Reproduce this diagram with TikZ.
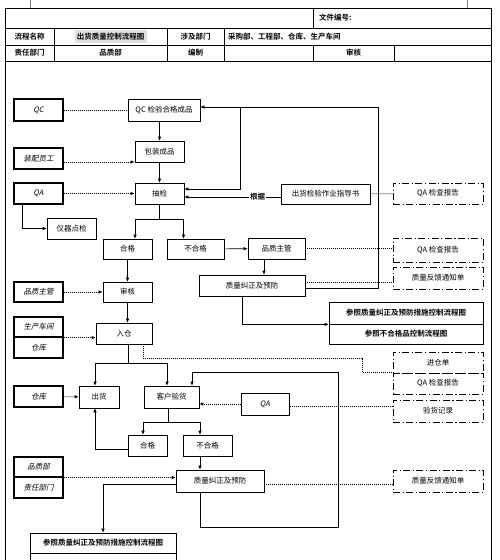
\documentclass[tikz,border=0pt]{standalone}
\usepackage{fontspec}
\setmainfont{Noto Sans CJK SC}[BoldFont={Noto Sans CJK SC Bold}]
\newfontfamily\slfont{Noto Sans CJK SC}[FakeSlant=0.2]
\usetikzlibrary{arrows.meta}

\begin{document}
\begin{tikzpicture}[
                x = 1pt, y = -1pt,
                every node/.style = {font = \fontsize{7.5}{9}\selectfont, inner sep = 0pt},
                proc/.style = {draw, line width = 0.6pt, minimum width = 49, minimum height = 21},
                role/.style = {draw, line width = 1.2pt, minimum width = 49, minimum height = 21, font = \fontsize{7.5}{9}\selectfont\slfont},
                docbox/.style = {draw, line width = 1pt, dash pattern = on 7pt off 2.5pt on 1.2pt off 2.5pt, minimum width = 90, minimum height = 22},
                refbox/.style = {draw, line width = 0.6pt, minimum height = 21, font = \fontsize{7.5}{9}\selectfont\bfseries},
                cell/.style = {font = \fontsize{7.5}{9}\selectfont\bfseries},
                arr/.style = {draw, line width = 0.6pt, -{Latex[length = 4pt, width = 3.5pt]}},
                line/.style = {draw, line width = 0.6pt},
                dotline/.style = {draw, line width = 0.8pt, dash pattern = on 1pt off 1pt},
                dotarr/.style = {dotline, -{Latex[length = 4pt, width = 3.5pt]}},
            ]
            \clip (0,0) rectangle (500,560);

            % header
            \draw[gray, line width = 0.4pt] (30,0) -- (30,8) (467,0) -- (467,8);
            \draw[line width = 0.6pt] (5,560) -- (5,8) -- (491,8) -- (491,560);
            \draw[line width = 0.6pt] (5,28) -- (491,28) (5,45) -- (491,45) (5,61) -- (491,61);
            \draw[line width = 0.6pt] (313,8) -- (313,28);
            \draw[line width = 0.6pt] (54,28) -- (54,61) (167,28) -- (167,61) (224,28) -- (224,61);
            \draw[line width = 0.6pt] (313,45) -- (313,61) (394,45) -- (394,61);
            \fill[gray!25] (75,30) rectangle (147,43);
            \node (fileno) [cell, anchor=west] at (319,18) {文件编号:};
            \node (hname) [cell] at (29.5,36.5) {流程名称};
            \node (title) [cell] at (110.5,36.5) {出货质量控制流程图};
            \node (hdept) [cell] at (195.5,36.5) {涉及部门};
            \node (depts) [cell, anchor=west] at (228,36.5) {采购部、工程部、仓库、生产车间};
            \node (hresp) [cell] at (29.5,53) {责任部门};
            \node (resp) [cell] at (110.5,53) {品质部};
            \node (hedit) [cell] at (195.5,53) {编制};
            \node (hcheck) [cell] at (353.5,53) {审核};

            % roles
            \node (qc) [role, minimum height=22] at (38.5,110) {QC};
            \node (zp) [role] at (38.5,158.5) {装配员工};
            \node (qa1) [role] at (38.5,193.5) {QA};
            \node (zg) [role, minimum height=20] at (38.5,292) {品质主管};
            \node (sc) [role, minimum height=20] at (38.5,327) {生产车间};
            \node (ck1) [role] at (38.5,347.5) {仓库};
            \node (ck2) [role] at (38.5,396.5) {仓库};
            \node (pzb) [role, minimum height=20] at (38.5,467) {品质部};
            \node (zrbm) [role] at (38.5,487.5) {责任部门};

            % steps
            \node (qcok) [proc, minimum width=72, minimum height=22] at (164,110) {QC 检验合格成品};
            \node (bz) [proc] at (159.5,151.5) {包装成品};
            \node (cj) [proc] at (159.5,193.5) {抽检};
            \node (yq) [proc] at (71.5,228.5) {仪器点检};
            \node (zd) [proc, minimum width=89, minimum height=20] at (325.5,194) {出货检验作业指导书};
            \node (hg1) [proc, minimum height=20] at (127.5,249) {合格};
            \node (bhg1) [proc, minimum width=57, minimum height=20] at (195.5,249) {不合格};
            \node (pzzg) [proc, minimum width=57] at (276.5,248.5) {品质主管};
            \node (jz1) [proc, minimum width=106] at (252,285.5) {质量纠正及预防};
            \node (sh) [proc, minimum height=20] at (127.5,292) {审核};
            \node (rc) [proc, minimum width=56] at (124,333.5) {入仓};
            \node (ref1a) [refbox, minimum width=154, minimum height=22] at (406,313) {参照质量纠正及预防措施控制流程图};
            \node (ref1b) [refbox, minimum width=154, minimum height=20] at (406,334) {参照不合格品控制流程图};
            \node (ch) [proc, minimum width=40, minimum height=22] at (99,397) {出货};
            \node (yh) [proc, minimum width=55, minimum height=22] at (171.5,397) {客户验货};
            \node (qa2) [role, minimum width=48, minimum height=22, line width=1pt] at (265,404) {QA};
            \node (hg2) [proc, minimum width=39] at (147.5,445.5) {合格};
            \node (bhg2) [proc] at (207.5,445.5) {不合格};
            \node (jz2) [proc, minimum width=88, minimum height=22] at (220,481) {质量纠正及预防};
            \node (ref2a) [refbox, minimum width=146, minimum height=20] at (103,543) {参照质量纠正及预防措施控制流程图};
            \node (ref2b) [refbox, minimum width=146, minimum height=20] at (103,563) {};

            % records
            \node (qabg1) [docbox, minimum height=21] at (438,193.5) {QA 检查报告};
            \node (qabg2) [docbox, minimum height=24] at (438,250) {QA 检查报告};
            \node (fk1) [docbox] at (438,278) {质量反馈通知单};
            \node (jcd) [docbox, minimum height=21] at (438,362.5) {进仓单};
            \node (qabg3) [docbox, minimum height=21] at (438,383.5) {QA 检查报告};
            \node (yhjl) [docbox] at (438,411) {验货记录};
            \node (fk2) [docbox] at (438,481) {质量反馈通知单};

            \coordinate (s1) at (159.5,219);
            \coordinate (s2) at (128,363);
            \coordinate (s3) at (168,422);
            \coordinate (c1) at (378,107);
            \coordinate (c2) at (240,107);
            \coordinate (c3) at (338,527);
            \coordinate (c4) at (338,372);

            % main flow
            \path[arr] (qcok.south -| bz) -- (bz);
            \path[arr] (bz) -- (cj);
            \path[line] (cj) -- (s1);
            \path[arr] (s1) -| ([xshift=7.5pt]hg1.north);
            \path[arr] (s1) -| ([xshift=-12pt]bhg1.north);
            \path[arr] ([xshift=-16.5pt]qa1.south) |- (yq);
            \path[arr] (bhg1) -- (pzzg);
            \path[arr] ([xshift=-12.5pt]pzzg.south) -- ([xshift=-12.5pt]pzzg.south |- jz1.north);
            \path[arr] ([yshift=-2.5pt]jz1.east) -| (c1) -- ([yshift=3pt]qcok.east);
            \path[arr] (c2) |- ([yshift=4.5pt]cj.east);
            \path[arr] ([yshift=-3pt]zd.west) -- ([yshift=-3.5pt]cj.east)
                node (gj) [pos=0.24, fill=white, inner sep=1pt, font=\fontsize{7.5}{9}\selectfont\bfseries] {根据};
            \path[arr] ([xshift=-10pt]jz1.south) |- (ref1a.south west);
            \path[arr] (hg1) -- (sh);
            \path[arr] (sh.south) -- (sh.south |- rc.north);
            \path[line] (rc.south -| s2) -- (s2);
            \path[arr] (s2) -| ([xshift=-4pt]ch.north);
            \path[arr] (s2) -| ([xshift=-4.5pt]yh.north);
            \path[line] (yh.south -| s3) -- (s3);
            \path[arr] (s3) -| ([xshift=-4.5pt]hg2.north);
            \path[arr] (s3) -| ([xshift=-7.5pt]bhg2.north);
            \path[arr] ([yshift=-3.5pt]hg2.west) -| ([xshift=-4pt]ch.south);
            \path[arr] ([xshift=-7.5pt]bhg2.south) -- ([xshift=-7.5pt]bhg2.south |- jz2.north);
            \path[arr] ([xshift=-20pt]jz2.south) |- (c3) -- (c4) -| ([xshift=20.5pt]yh.north);
            \path[arr] ([yshift=-3pt]jz2.west) -| (ref2a);

            % dotted links
            \path[dotline] (qc) -- (qcok);
            \path[dotarr] ([yshift=-3.5pt]zp.east) -- ([yshift=-3.5pt]zp.east -| bz.west);
            \path[dotarr] (qa1) -- (cj);
            \path[dotarr] (zg) -- (sh);
            \path[dotarr] (sc.south east) -- (sc.south east -| rc.west);
            \path[dotarr] (ck2) -- (ch);
            \path[dotarr] (qa2.west) -- (qa2.west -| yh.east);
            \path[dotline] ([yshift=-2pt]qa2.east) -- ([yshift=-2pt]qa2.east -| yhjl.west);
            \path[dotarr] (pzb.south east) -- (pzb.south east -| jz2.west);
            \path[dotline] ([yshift=-3pt]jz2.east) -- ([yshift=-3pt]jz2.east -| fk2.west);
            \path[dotline] (zd) -- (qabg1);
            \path[dotline] (pzzg.east) -- (pzzg.east -| qabg2.west);
            \path[dotline] ([yshift=3.5pt]jz1.east) -- ([yshift=3.5pt]jz1.east -| fk1.west);
            \path[dotline] ([xshift=19pt]rc.south) |- (362,358) |- ([yshift=1pt]jcd.south west);
        \end{tikzpicture}
\end{document}
